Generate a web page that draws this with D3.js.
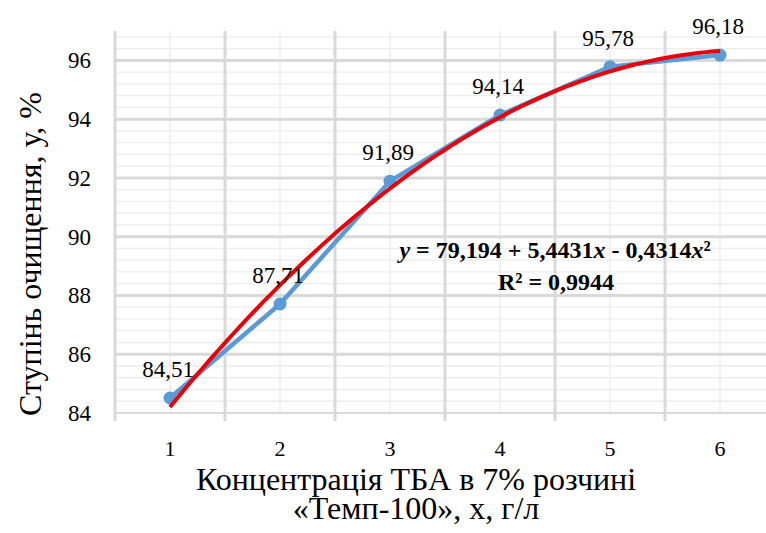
<!DOCTYPE html>
<html>
<head>
<meta charset="utf-8">
<script src="https://cdn.jsdelivr.net/npm/d3@7"></script>
<style>
  body { margin: 0; background: #fff; }
</style>
</head>
<body>
<div id="plot"></div>
<script>
const FRAME_WIDTH = 766;
const FRAME_HEIGHT = 533;
const MARGIN = {left: 115, right: -9, top: 31, bottom: 120};
const FONT = "'Liberation Serif', 'Times New Roman', serif";

// data
const categories = [1, 2, 3, 4, 5, 6];
const values = [84.51, 87.71, 91.89, 94.14, 95.78, 96.18];
const valueLabels = ["84,51", "87,71", "91,89", "94,14", "95,78", "96,18"];
const yTicks = [84, 86, 88, 90, 92, 94, 96];
const trendCoef = [79.194, 5.4431, -0.4314];

const VIS_WIDTH = FRAME_WIDTH - MARGIN.left - MARGIN.right;
const VIS_HEIGHT = FRAME_HEIGHT - MARGIN.top - MARGIN.bottom;

const FRAME = d3.select("#plot")
  .append("svg")
    .attr("width", FRAME_WIDTH)
    .attr("height", FRAME_HEIGHT)
    .style("font-family", FONT);

const X_SCALE = d3.scaleLinear()
  .domain([0.5, 6.5])
  .range([MARGIN.left, MARGIN.left + VIS_WIDTH]);

const Y_SCALE = d3.scaleLinear()
  .domain([84, 97])
  .range([MARGIN.top + VIS_HEIGHT, MARGIN.top]);

const yBottom = Y_SCALE(84), yTop = Y_SCALE(97);

// minor horizontal grid (every 0.4)
const minorY = d3.range(84.4, 97.01, 0.4).filter(v => Math.abs(v / 2 - Math.round(v / 2)) > 0.01);
FRAME.append("g").selectAll("line")
  .data(minorY).enter().append("line")
    .attr("x1", X_SCALE(0.5)).attr("x2", X_SCALE(6.5))
    .attr("y1", d => Y_SCALE(d)).attr("y2", d => Y_SCALE(d))
    .attr("stroke", "#ececec").attr("stroke-width", 1.3);

// minor vertical grid (category centres)
FRAME.append("g").selectAll("line")
  .data(categories).enter().append("line")
    .attr("x1", d => X_SCALE(d)).attr("x2", d => X_SCALE(d))
    .attr("y1", yTop).attr("y2", yBottom)
    .attr("stroke", "#ececec").attr("stroke-width", 1.5);

// major horizontal grid
FRAME.append("g").selectAll("line")
  .data(yTicks.slice(1)).enter().append("line")
    .attr("x1", X_SCALE(0.5)).attr("x2", X_SCALE(6.5))
    .attr("y1", d => Y_SCALE(d)).attr("y2", d => Y_SCALE(d))
    .attr("stroke", "#d9d9d9").attr("stroke-width", 3);

// major vertical grid (category boundaries) + tick marks
const bounds = d3.range(0.5, 7, 1);
FRAME.append("g").selectAll("line")
  .data(bounds).enter().append("line")
    .attr("x1", d => X_SCALE(d)).attr("x2", d => X_SCALE(d))
    .attr("y1", yTop).attr("y2", yBottom + 8)
    .attr("stroke", "#d9d9d9").attr("stroke-width", 3);

// x axis line
FRAME.append("line")
  .attr("x1", X_SCALE(0.5)).attr("x2", X_SCALE(6.5))
  .attr("y1", yBottom).attr("y2", yBottom)
  .attr("stroke", "#d9d9d9").attr("stroke-width", 2);

// y tick labels
FRAME.append("g").selectAll("text")
  .data(yTicks).enter().append("text")
    .attr("x", 91).attr("y", d => Y_SCALE(d) + 8)
    .attr("text-anchor", "end")
    .style("font-family", FONT)
    .attr("font-size", "23px")
    .text(d => d);

// x tick labels
FRAME.append("g").selectAll("text")
  .data(categories).enter().append("text")
    .attr("x", d => X_SCALE(d)).attr("y", 456)
    .attr("text-anchor", "middle")
    .style("font-family", FONT)
    .attr("font-size", "22px")
    .text(d => d);

// data line
const line = d3.line()
  .x((d, i) => X_SCALE(categories[i]))
  .y(d => Y_SCALE(d));

FRAME.append("path")
  .datum(values)
  .attr("d", line)
  .attr("fill", "none")
  .attr("stroke", "#5b9bd5")
  .attr("stroke-width", 4.5)
  .attr("stroke-linejoin", "round");

FRAME.append("g").selectAll("circle")
  .data(values).enter().append("circle")
    .attr("cx", (d, i) => X_SCALE(categories[i]))
    .attr("cy", d => Y_SCALE(d))
    .attr("r", 6.5)
    .attr("fill", "#5b9bd5");

// polynomial trendline
const trendX = d3.range(1, 6.001, 0.05);
const trendLine = d3.line()
  .x(d => X_SCALE(d))
  .y(d => Y_SCALE(trendCoef[0] + trendCoef[1] * d + trendCoef[2] * d * d));

FRAME.append("path")
  .datum(trendX)
  .attr("d", trendLine)
  .attr("fill", "none")
  .attr("stroke", "#e8000b")
  .attr("stroke-width", 4);

// data labels
FRAME.append("g").selectAll("text")
  .data(values).enter().append("text")
    .attr("x", (d, i) => X_SCALE(categories[i]) - 2)
    .attr("y", d => Y_SCALE(d) - 21)
    .attr("text-anchor", "middle")
    .style("font-family", FONT)
    .attr("font-size", "23px")
    .text((d, i) => valueLabels[i]);

// equation
const eq = FRAME.append("text")
  .attr("x", 555).attr("y", 258)
  .attr("text-anchor", "middle")
  .style("font-family", FONT)
  .attr("font-size", "24px")
  .attr("font-weight", "bold");
eq.append("tspan").attr("font-style", "italic").text("y");
eq.append("tspan").text(" = 79,194 + 5,4431");
eq.append("tspan").attr("font-style", "italic").text("x");
eq.append("tspan").text(" - 0,4314");
eq.append("tspan").attr("font-style", "italic").text("x");
eq.append("tspan").text("²");

FRAME.append("text")
  .attr("x", 556).attr("y", 290)
  .attr("text-anchor", "middle")
  .style("font-family", FONT)
  .attr("font-size", "24px")
  .attr("font-weight", "bold")
  .text("R² = 0,9944");

// axis titles
FRAME.append("text")
  .attr("x", 416).attr("y", 490)
  .attr("text-anchor", "middle")
  .style("font-family", FONT)
  .attr("font-size", "32px")
  .text("Концентрація ТБА в 7% розчині");
FRAME.append("text")
  .attr("x", 416).attr("y", 519)
  .attr("text-anchor", "middle")
  .style("font-family", FONT)
  .attr("font-size", "32px")
  .text("«Темп-100», х, г/л");

FRAME.append("text")
  .attr("transform", "translate(41," + 254 + ") rotate(-90)")
  .attr("text-anchor", "middle")
  .style("font-family", FONT)
  .attr("font-size", "32px")
  .text("Ступінь очищення, у, %");
</script>
</body>
</html>
